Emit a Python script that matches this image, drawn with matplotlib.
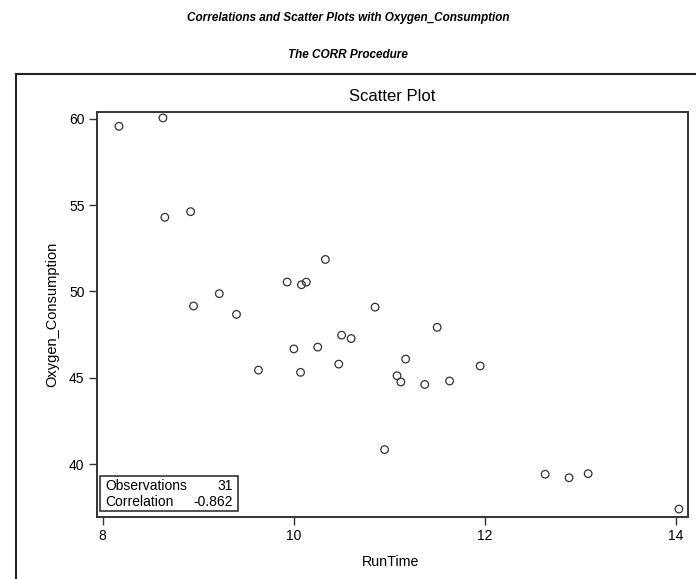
import matplotlib
matplotlib.use("Agg")
import matplotlib.pyplot as plt
from matplotlib.lines import Line2D

# fitness data as shown in the scatter
run_time = [11.37, 10.07, 8.65, 8.17, 9.22, 11.63, 11.95, 10.85, 13.08, 8.63,
            10.13, 14.03, 11.12, 10.60, 10.33, 8.95, 10.95, 10.00, 10.25, 10.08,
            12.63, 11.17, 9.63, 8.92, 11.08, 12.88, 10.47, 9.93, 9.40, 11.50, 10.50]
oxygen = [44.609, 45.313, 54.297, 59.571, 49.874, 44.811, 45.681, 49.091, 39.442, 60.055,
          50.541, 37.388, 44.754, 47.273, 51.855, 49.156, 40.836, 46.672, 46.774, 50.388,
          39.407, 46.080, 45.441, 54.625, 45.118, 39.203, 45.790, 50.545, 48.673, 47.920, 47.467]
x_ticks = [8, 10, 12, 14]
y_ticks = [40, 45, 50, 55, 60]
n_obs = 31
corr_text = "-0.862"

W, H = 696, 579
FONT = "Liberation Sans"
fig = plt.figure(figsize=(W / 100, H / 100), dpi=100)
fig.patch.set_facecolor("white")

fig.text(0.5, 1 - 18 / H, "Correlations and Scatter Plots with Oxygen_Consumption",
         ha="center", va="center", fontsize=8.5, fontweight="bold", fontstyle="italic",
         family=FONT)
fig.text(0.5, 1 - 55 / H, "The CORR Procedure",
         ha="center", va="center", fontsize=8.5, fontweight="bold", fontstyle="italic",
         family=FONT)

# outer frame around the graph (right edge falls outside the image)
fx0, fy1 = 16 / W, 1 - 74 / H
fig.add_artist(Line2D([fx0, fx0], [-0.05, fy1], transform=fig.transFigure, color="#222222", lw=1.5))
fig.add_artist(Line2D([fx0, 1.01], [fy1, fy1], transform=fig.transFigure, color="#222222", lw=1.5))

ax = fig.add_axes([97 / W, 1 - 517 / H, 591 / W, 405 / H])
ax.scatter(run_time, oxygen, s=30, facecolors="none", edgecolors="#333333", linewidths=0.9)

ax.set_xlim(7.94, 14.125)
ax.set_ylim(36.93, 60.4)
ax.set_xticks(x_ticks)
ax.set_yticks(y_ticks)
ax.tick_params(direction="out", length=6, width=1, colors="#333333",
               labelsize=10, labelcolor="black", pad=3)
for lab in ax.get_xticklabels() + ax.get_yticklabels():
    lab.set_family(FONT)
for sp in ax.spines.values():
    sp.set_linewidth(1.4)
    sp.set_color("#333333")

ax.set_title("Scatter Plot", fontsize=12, family=FONT, pad=8)
ax.set_xlabel("RunTime", fontsize=10.3, family=FONT)
ax.set_ylabel("Oxygen_Consumption", fontsize=10.5, family=FONT)
ax.xaxis.set_label_coords(391 / W, 1 - 562 / H, transform=fig.transFigure)
ax.yaxis.set_label_coords(52 / W, 1 - 314 / H, transform=fig.transFigure)
ax.xaxis.label.set_va("center")
ax.yaxis.label.set_va("center")

# statistics inset
bx0, bx1 = 100 / W, 238 / W
by0, by1 = 1 - 511 / H, 1 - 476 / H
fig.add_artist(plt.Rectangle((bx0, by0), bx1 - bx0, by1 - by0, transform=fig.transFigure,
                             fill=True, facecolor="white", edgecolor="#222222", lw=1.1))
fig.text(105 / W, 1 - 486 / H, "Observations", ha="left", va="center", fontsize=10,
         family=FONT)
fig.text(233 / W, 1 - 486 / H, str(n_obs), ha="right", va="center", fontsize=10,
         family=FONT)
fig.text(105 / W, 1 - 502 / H, "Correlation", ha="left", va="center", fontsize=10,
         family=FONT)
fig.text(233 / W, 1 - 502 / H, corr_text, ha="right", va="center", fontsize=10,
         family=FONT)

fig.savefig("out.png", dpi=100)
